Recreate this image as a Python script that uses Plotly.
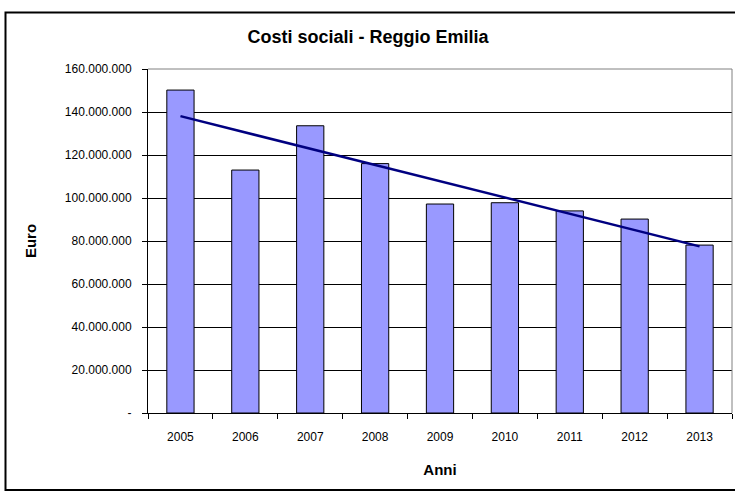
import numpy as np
import plotly.graph_objects as go

years = ["2005", "2006", "2007", "2008", "2009", "2010", "2011", "2012", "2013"]
costs = [150.2e6, 113.0e6, 133.6e6, 116.0e6, 97.2e6, 97.8e6, 94.0e6, 90.2e6, 78.1e6]
y_tickvals = [0, 20e6, 40e6, 60e6, 80e6, 100e6, 120e6, 140e6, 160e6]
y_ticktext = ["-", "20.000.000", "40.000.000", "60.000.000", "80.000.000",
              "100.000.000", "120.000.000", "140.000.000", "160.000.000"]

# linear trendline (least squares, as in the original spreadsheet)
xi = np.arange(len(costs))
slope, intercept = np.polyfit(xi, costs, 1)
trend = slope * xi + intercept

FONT = "Liberation Sans, Arial, sans-serif"

fig = go.Figure()
fig.add_trace(go.Bar(
    x=years, y=costs,
    marker=dict(color="#9999FF", line=dict(color="#000000", width=1)),
    showlegend=False,
))
fig.add_trace(go.Scatter(
    x=years, y=trend, mode="lines",
    line=dict(color="#000080", width=2.5),
    showlegend=False,
))

W, H = 735, 496
L, R, T, B = 148, 3, 69, 83
pw, ph = W - L - R, H - T - B

def px_x(p):
    return (p - L) / pw

def px_y(p):
    return (H - B - p) / ph

fig.update_layout(
    width=W, height=H,
    margin=dict(l=L, r=R, t=T, b=B),
    paper_bgcolor="white", plot_bgcolor="white",
    bargap=0.58,
    font=dict(family=FONT, size=12, color="#000000"),
    title=dict(text="<b>Costi sociali - Reggio Emilia</b>",
               font=dict(family=FONT, size=18, color="#000000"),
               x=px_x(368), xanchor="center", xref="paper",
               y=1 - 37 / H, yanchor="middle"),
    xaxis=dict(
        showgrid=False, showline=True, linecolor="#000000", linewidth=1,
        ticks="outside", ticklen=5, tickcolor="#000000", tickson="boundaries",
        tickfont=dict(family=FONT, size=12),
        ticklabelstandoff=13,
        title=dict(text="<b>Anni</b>", font=dict(family=FONT, size=15), standoff=21),
        mirror=False,
    ),
    yaxis=dict(
        range=[0, 160e6], tickvals=y_tickvals, ticktext=y_ticktext,
        showgrid=True, gridcolor="#000000", gridwidth=1,
        showline=True, linecolor="#000000", linewidth=1,
        ticks="outside", ticklen=5, tickcolor="#000000",
        tickfont=dict(family=FONT, size=12),
        ticklabelstandoff=8,
        title=dict(text="<b>Euro</b>", font=dict(family=FONT, size=15), standoff=24),
        zeroline=False,
    ),
    shapes=[
        dict(type="line", xref="paper", yref="paper", x0=1, x1=1, y0=0, y1=1,
             line=dict(color="#808080", width=1)),
        dict(type="line", xref="paper", yref="paper", x0=0, x1=1, y0=1, y1=1,
             line=dict(color="#808080", width=1)),
        dict(type="rect", xref="paper", yref="paper",
             x0=px_x(5.5), x1=px_x(760), y0=px_y(490), y1=px_y(12.5),
             line=dict(color="#000000", width=2), layer="below"),
    ],
)

fig.write_html("out.html")
